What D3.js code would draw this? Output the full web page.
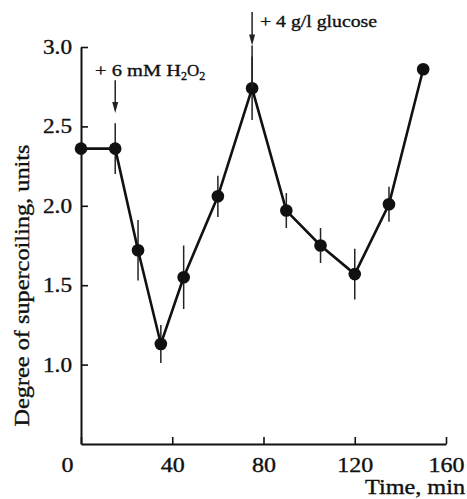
<!DOCTYPE html>
<html>
<head>
<meta charset="utf-8">
<script src="https://cdn.jsdelivr.net/npm/d3@7"></script>
<style>
  body { margin: 0; background: #fff; }
  text { font-family: "Liberation Serif", "Times New Roman", serif; fill: #111; stroke: #111; stroke-width: 0.35; }
</style>
</head>
<body>
<div id="chart"></div>
<script>
// time points (min) and supercoiling values
let times = [0, 15, 25, 35, 45, 60, 75, 90, 105, 120, 135, 150];
let values = [2.36, 2.36, 1.72, 1.13, 1.55, 2.06, 2.74, 1.97, 1.75, 1.57, 2.01, 2.86];
let errors = [0, 0.16, 0.19, 0.12, 0.2, 0.13, 0.2, 0.11, 0.11, 0.16, 0.11, 0];

let xTicks = [0, 40, 80, 120, 160];
let yTicks = [1.0, 1.5, 2.0, 2.5, 3.0];

// additions marked with arrows
let addTimes = [15, 75];
let addTop = [2.79, 3.22];
let addTip = [2.585, 3.01];

let width = 467,
    height = 499;

let svg = d3.select("#chart")
    .append("svg")
    .attr("width", width)
    .attr("height", height);

let x = d3.scaleLinear().domain([0, 160]).range([81, 446]);
let y = d3.scaleLinear().domain([0.5, 3.0]).range([444, 47]);

// the scanned figure's type is a little wider than Times
function stretch(sel) {
    sel.attr("textLength", function() {
        let s = d3.select(this).text();
        return s.replace(".", "").length * 12 + (s.includes(".") ? 5 : 0);
    }).attr("lengthAdjust", "spacingAndGlyphs");
}

// axes: ticks point inward
let xAxis = svg.append("g")
    .attr("transform", `translate(0, ${y(0.5)})`)
    .call(d3.axisBottom(x).tickValues(xTicks).tickSizeInner(-7).tickSizeOuter(0).tickFormat(d3.format("d")));
let yAxis = svg.append("g")
    .attr("transform", `translate(${x(0)}, 0)`)
    .call(d3.axisLeft(y).tickValues(yTicks).tickSizeInner(-7).tickSizeOuter(0).tickFormat(d3.format(".1f")));

[xAxis, yAxis].forEach(a => {
    a.select(".domain").attr("stroke", "#111").attr("stroke-width", 2);
    a.selectAll(".tick line").attr("stroke", "#111").attr("stroke-width", 1.6);
    a.selectAll("text").style("font-size", "20px").attr("fill", "#111").call(stretch);
});
xAxis.selectAll(".tick text").attr("dy", null).attr("y", 28);
xAxis.selectAll(".tick text").filter(d => d === 0).attr("x", -14);
yAxis.selectAll(".tick text").attr("x", -9);

// axis titles
svg.append("text")
    .attr("x", 465)
    .attr("y", 494)
    .style("text-anchor", "end")
    .style("font-size", "20px")
    .attr("textLength", 100)
    .attr("lengthAdjust", "spacingAndGlyphs")
    .text("Time, min");

svg.append("text")
    .attr("transform", `translate(29, ${(y(0.5) + y(3.0)) / 2 + 40}) rotate(-90)`)
    .style("text-anchor", "middle")
    .style("font-size", "20px")
    .attr("textLength", 282)
    .attr("lengthAdjust", "spacingAndGlyphs")
    .text("Degree of supercoiling, units");

let data = times.map((t, i) => ({ t: t, v: values[i], e: errors[i] }));

// error bars
svg.selectAll("line.err")
    .data(data.filter(d => d.e > 0))
    .enter()
    .append("line")
    .attr("class", "err")
    .attr("x1", d => x(d.t))
    .attr("x2", d => x(d.t))
    .attr("y1", d => y(d.v - d.e))
    .attr("y2", d => y(d.v + d.e))
    .attr("stroke", "#222")
    .attr("stroke-width", 1.5);

// connecting line
svg.append("path")
    .datum(data)
    .attr("fill", "none")
    .attr("stroke", "#111")
    .attr("stroke-width", 2.6)
    .attr("d", d3.line().x(d => x(d.t)).y(d => y(d.v)));

svg.selectAll("circle")
    .data(data)
    .enter()
    .append("circle")
    .attr("cx", d => x(d.t))
    .attr("cy", d => y(d.v))
    .attr("r", 6.3)
    .attr("fill", "#111");

// arrows for additions
addTimes.forEach((t, i) => {
    let ax = x(t), top = y(addTop[i]), tip = y(addTip[i]);
    svg.append("line")
        .attr("x1", ax).attr("x2", ax)
        .attr("y1", top).attr("y2", tip - 8)
        .attr("stroke", "#222")
        .attr("stroke-width", 1.5);
    svg.append("path")
        .attr("d", `M${ax - 3},${tip - 11} L${ax + 3},${tip - 11} L${ax},${tip} Z`)
        .attr("fill", "#222");
});
// glucose arrow shaft continues to the point
svg.append("line")
    .attr("x1", x(75)).attr("x2", x(75))
    .attr("y1", y(addTip[1])).attr("y2", y(values[6]))
    .attr("stroke", "#222")
    .attr("stroke-width", 1.5);

// labels
let h2o2 = svg.append("text")
    .attr("x", 95)
    .attr("y", 76)
    .style("font-size", "17px");
h2o2.append("tspan").attr("textLength", 86).attr("lengthAdjust", "spacingAndGlyphs").text("+ 6 mM H");
h2o2.append("tspan").attr("dy", 4).style("font-size", "12px").text("2");
h2o2.append("tspan").attr("dy", -4).text("O");
h2o2.append("tspan").attr("dy", 4).style("font-size", "12px").text("2");

svg.append("text")
    .attr("x", 260)
    .attr("y", 27)
    .style("font-size", "17px")
    .attr("textLength", 117)
    .attr("lengthAdjust", "spacingAndGlyphs")
    .text("+ 4 g/l glucose");
</script>
</body>
</html>
